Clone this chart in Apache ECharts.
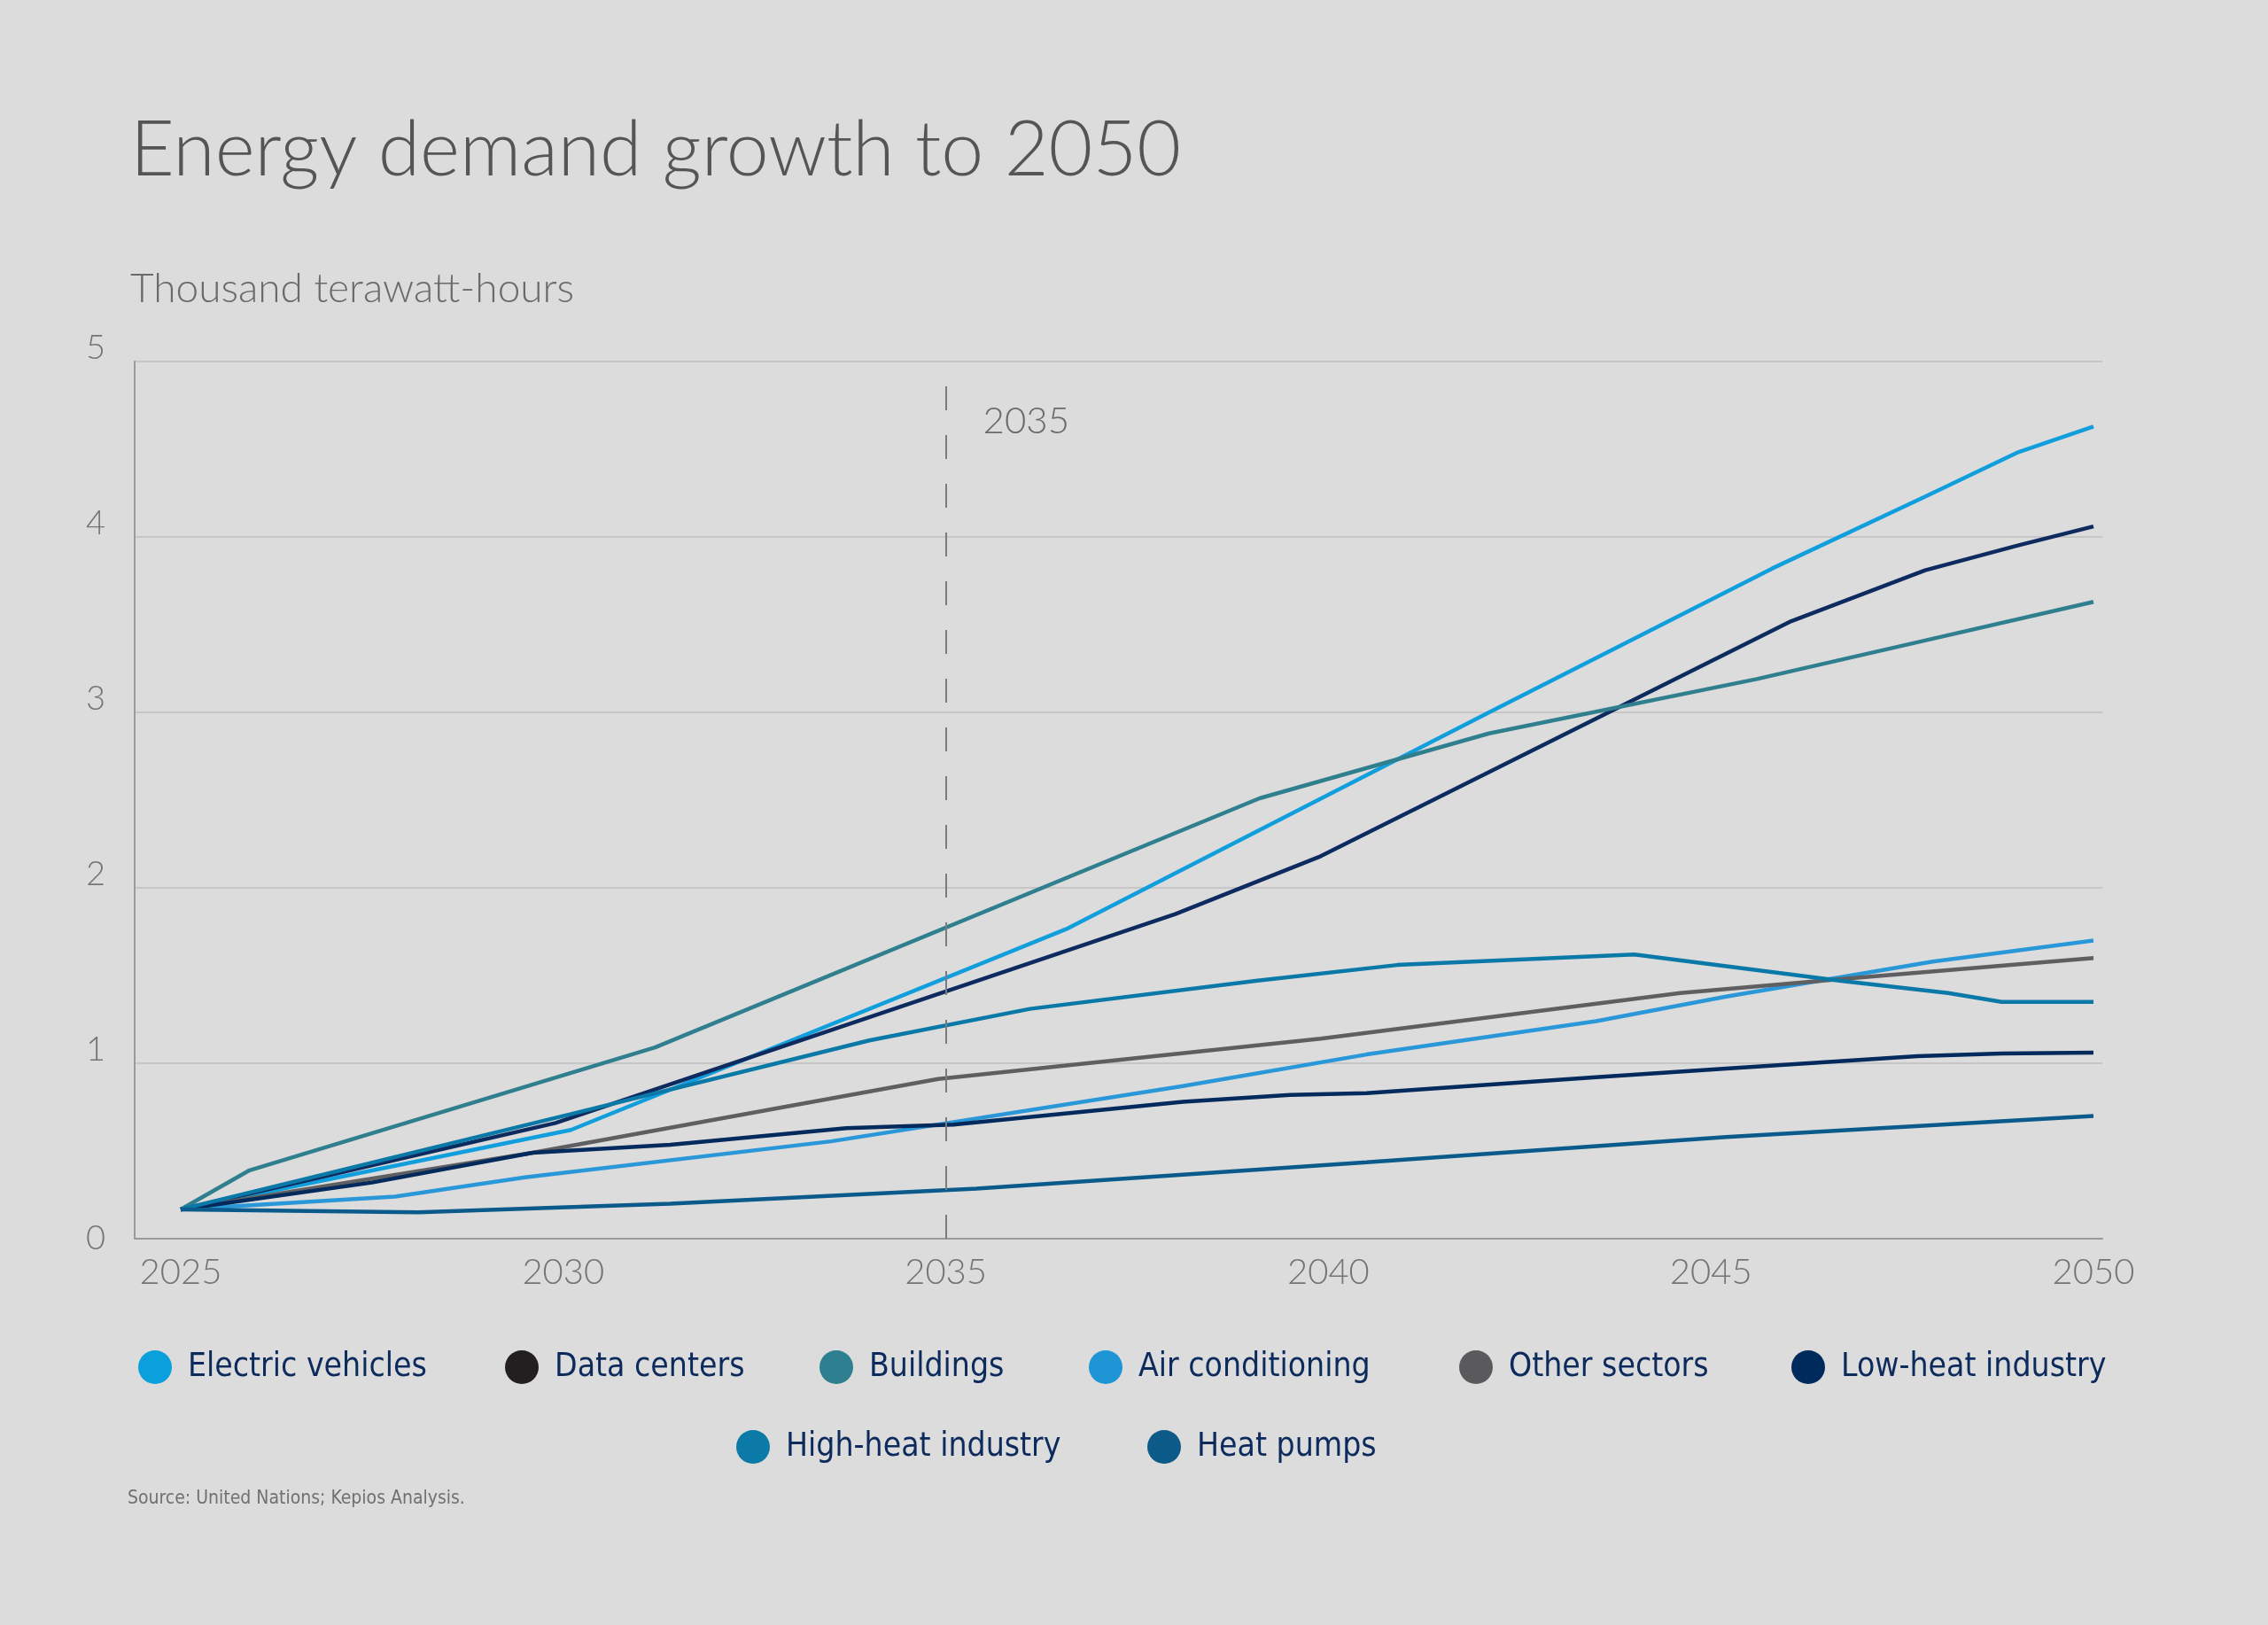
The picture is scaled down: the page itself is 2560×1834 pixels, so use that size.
<!DOCTYPE html>
<html>
<head>
<meta charset="utf-8">
<title>Energy demand growth to 2050</title>
<script src="https://cdn.jsdelivr.net/npm/echarts@6.0.0/dist/echarts.min.js"></script>
<style>
	html, body { margin: 0; padding: 0; background: #dcdcdc; }
	#chart { width: 2560px; height: 1834px; }
</style>
</head>
<body>
<div id="chart"></div>
<script type="text/javascript">
	// values: [year, thousand TWh]
	var electricVehicles = [[2025, 0.167], [2030.1, 0.62], [2036.6, 1.77], [2042.1, 3.0], [2045.8, 3.82], [2047.8, 4.23], [2049.0, 4.48], [2050, 4.63]];
	var dataCenters = [[2025, 0.167], [2029.9, 0.66], [2038.0, 1.85], [2039.9, 2.18], [2046.05, 3.52], [2047.8, 3.81], [2049.0, 3.95], [2050, 4.06]];
	var buildings = [[2025, 0.167], [2025.9, 0.39], [2031.2, 1.09], [2039.1, 2.51], [2042.1, 2.88], [2045.6, 3.19], [2048.0, 3.43], [2050, 3.63]];
	var airConditioning = [[2025, 0.167], [2027.8, 0.24], [2029.5, 0.35], [2033.5, 0.555], [2038.1, 0.87], [2040.5, 1.05], [2043.5, 1.24], [2045.2, 1.38], [2047.9, 1.58], [2050, 1.70]];
	var otherSectors = [[2025, 0.167], [2029.6, 0.49], [2034.9, 0.91], [2039.9, 1.14], [2044.6, 1.40], [2046.7, 1.48], [2050, 1.60]];
	var lowHeatIndustry = [[2025, 0.167], [2027.5, 0.32], [2029.6, 0.49], [2031.4, 0.535], [2033.7, 0.63], [2035.1, 0.65], [2038.1, 0.78], [2039.5, 0.82], [2040.5, 0.83], [2043.5, 0.92], [2045.2, 0.97], [2047.7, 1.04], [2048.8, 1.055], [2050, 1.06]];
	var highHeatIndustry = [[2025, 0.167], [2030.1, 0.71], [2034.0, 1.13], [2036.1, 1.31], [2039.05, 1.47], [2040.9, 1.56], [2044.0, 1.62], [2046.7, 1.47], [2048.1, 1.40], [2048.8, 1.35], [2050, 1.35]];
	var heatPumps = [[2025, 0.167], [2028.1, 0.15], [2031.4, 0.20], [2035.4, 0.285], [2040.5, 0.436], [2045.2, 0.58], [2050, 0.70]];

	var seriesNames = ['Electric vehicles', 'Data centers', 'Buildings', 'Air conditioning', 'Other sectors', 'Low-heat industry', 'High-heat industry', 'Heat pumps'];
	var seriesData = [electricVehicles, dataCenters, buildings, airConditioning, otherSectors, lowHeatIndustry, highHeatIndustry, heatPumps];
	var xTicks = [2025, 2030, 2035, 2040, 2045, 2050];
	var markYear = 2035;

	// styles
	var lineColors = ['#109fdc', '#0e2b60', '#2f7f8f', '#2a98d8', '#5f5f61', '#022a5c', '#0a79a8', '#0b5a8c'];
	var legendColors = ['#0aa0dc', '#231f20', '#2e7f8f', '#1e96d6', '#5a5a5c', '#002a5c', '#0b7aa6', '#0b5a88'];
	var legendSpots = [[151, 1519], [565, 1519], [920, 1519], [1224, 1519], [1642, 1519], [2017, 1519], [826, 1609], [1290, 1609]];
	var thinFont = '"Lato Light", Lato, "Open Sans", sans-serif';
	var legendFont = '"Liberation Sans Narrow", "DejaVu Sans Condensed", "Noto Sans", sans-serif';

	var myChart = echarts.init(document.getElementById('chart'), null, {renderer: 'canvas'});

	var series = seriesNames.map(function (name, i) {
		return {
			name: name,
			type: 'line',
			data: seriesData[i],
			symbol: 'none',
			silent: true,
			lineStyle: {color: lineColors[i], width: 4.5},
			itemStyle: {color: lineColors[i]}
		};
	});
	series[series.length - 1].markLine = {
		silent: true,
		symbol: ['none', 'none'],
		label: {show: false},
		lineStyle: {type: [27, 28], color: '#7b7b7b', width: 2},
		data: [{xAxis: markYear}]
	};

	var legends = seriesNames.map(function (name, i) {
		return {
			left: legendSpots[i][0],
			top: legendSpots[i][1],
			orient: 'horizontal',
			icon: 'circle',
			itemWidth: 38,
			itemHeight: 38,
			selectedMode: false,
			itemStyle: {borderWidth: 0},
			data: [{name: name, itemStyle: {color: legendColors[i], borderWidth: 0}}],
			textStyle: {
				color: '#0c2a5c',
				fontSize: 37,
				fontFamily: legendFont,
				lineHeight: 38,
				padding: [0, 0, 0, 13]
			}
		};
	});

	var option = {
		backgroundColor: '#dcdcdc',
		animation: false,
		legend: legends,
		grid: {left: 152, right: 187, top: 408, bottom: 436, containLabel: false},
		xAxis: {
			type: 'value',
			min: 2024.398,
			max: 2050.116,
			axisLine: {show: true, lineStyle: {color: '#9a9a9a', width: 2}},
			axisTick: {show: false},
			splitLine: {show: false},
			axisLabel: {
				customValues: xTicks,
				margin: 18,
				color: '#747474',
				fontSize: 40,
				fontWeight: 300,
				fontFamily: thinFont,
				formatter: function (v) { return String(v); }
			}
		},
		yAxis: {
			type: 'value',
			min: 0,
			max: 5,
			interval: 1,
			axisLine: {show: true, lineStyle: {color: '#9a9a9a', width: 2}},
			axisTick: {show: false},
			splitLine: {show: true, lineStyle: {color: '#c6c6c6', width: 2}},
			axisLabel: {
				margin: 33,
				color: '#747474',
				fontSize: 38,
				fontWeight: 300,
				fontFamily: thinFont,
				lineHeight: 30,
				formatter: function (v) { return v === 0 ? '0' : v + '\n'; }
			}
		},
		series: series
	};

	myChart.setOption(option);

	// texts around the plot; the 2035 note follows the x scale
	var markX = myChart.convertToPixel({xAxisIndex: 0}, markYear);
	myChart.setOption({
		graphic: [
			{type: 'text', x: 147, y: 170, silent: true,
				style: {text: 'Energy demand growth to 2050', fill: '#555555', fontSize: 86, fontWeight: 300, fontFamily: thinFont, verticalAlign: 'middle'}},
			{type: 'text', x: 147, y: 326, silent: true,
				style: {text: 'Thousand terawatt-hours', fill: '#6a6a6a', fontSize: 46, fontWeight: 300, fontFamily: thinFont, verticalAlign: 'middle'}},
			{type: 'text', x: markX + 42, y: 475, silent: true,
				style: {text: String(markYear), fill: '#6a6a6a', fontSize: 42, fontWeight: 300, fontFamily: thinFont, verticalAlign: 'middle'}},
			{type: 'text', x: 144, y: 1692, silent: true,
				style: {text: 'Source: United Nations; Kepios Analysis.', fill: '#707070', fontSize: 21, fontFamily: legendFont, verticalAlign: 'middle'}}
		]
	});
</script>
</body>
</html>
